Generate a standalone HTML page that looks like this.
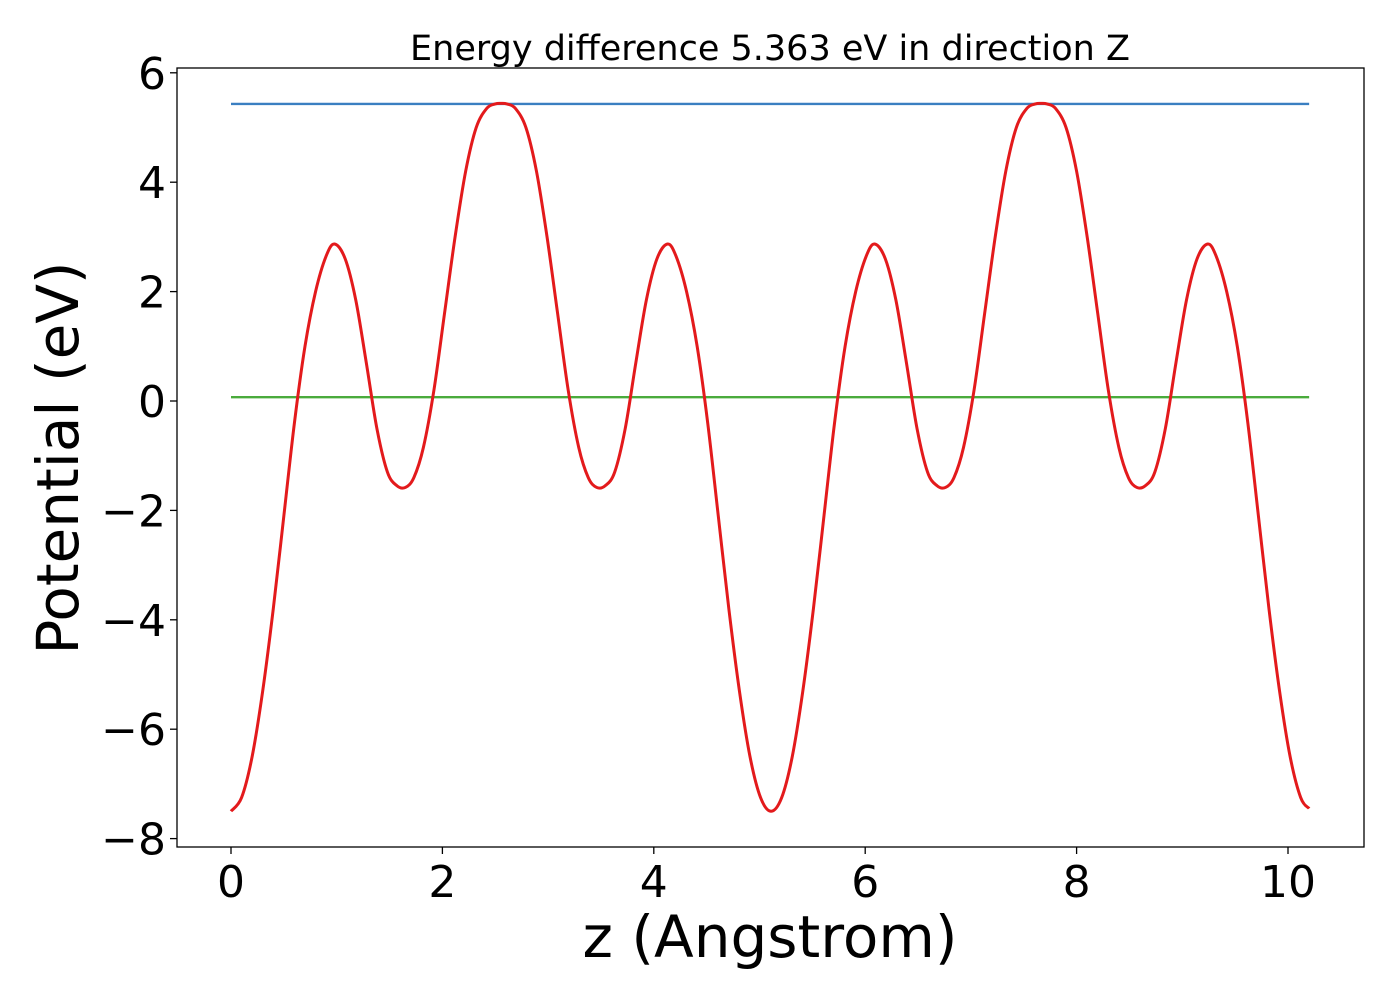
<!DOCTYPE html>
<html><head><meta charset="utf-8"><style>
body{margin:0;background:#fff;}
svg text{font-family:"DejaVu Sans","Liberation Sans",sans-serif;}
</style></head><body>
<svg id="chart" width="1400" height="1000" viewBox="0 0 1400 1000" xmlns="http://www.w3.org/2000/svg">
<rect width="1400" height="1000" fill="#fff"/>
<text x="770" y="60" font-size="35" text-anchor="middle">Energy difference 5.363 eV in direction Z</text>
<text x="770" y="957" font-size="58" text-anchor="middle">z (Angstrom)</text>
<text transform="translate(78,458) rotate(-90)" font-size="58" text-anchor="middle">Potential (eV)</text>
</svg>
<script>
const xTicks=[0,2,4,6,8,10];
const yTicks=[6,4,2,0,-2,-4,-6,-8];
const zVals=[0,0.1,0.2,0.3,0.4,0.5,0.6,0.7,0.8,0.9,0.98,1.08,1.18,1.28,1.38,1.48,1.57,1.65,1.73,1.82,1.92,2.02,2.12,2.22,2.32,2.42,2.5,2.555,2.61,2.69,2.79,2.89,2.99,3.09,3.19,3.29,3.38,3.46,3.54,3.63,3.73,3.83,3.93,4.03,4.13,4.21,4.31,4.41,4.51,4.61,4.71,4.81,4.91,5.01,5.11,5.21,5.31,5.41,5.51,5.61,5.71,5.81,5.91,6.01,6.09,6.19,6.29,6.39,6.49,6.59,6.68,6.76,6.84,6.93,7.03,7.13,7.23,7.33,7.43,7.53,7.61,7.665,7.72,7.8,7.9,8.0,8.1,8.2,8.3,8.4,8.49,8.57,8.65,8.74,8.84,8.94,9.04,9.14,9.24,9.32,9.42,9.52,9.62,9.72,9.82,9.92,10.02,10.12,10.2];
const potVals=[-7.5,-7.25,-6.5,-5.3,-3.8,-2.1,-0.4,1.0,2.0,2.65,2.87,2.6,1.85,0.7,-0.5,-1.3,-1.55,-1.58,-1.4,-0.85,0.2,1.6,3.0,4.2,5.0,5.35,5.43,5.44,5.43,5.35,5.0,4.2,3.0,1.6,0.2,-0.85,-1.4,-1.58,-1.55,-1.3,-0.5,0.7,1.85,2.6,2.87,2.65,2.0,1.0,-0.4,-2.1,-3.8,-5.3,-6.5,-7.25,-7.5,-7.25,-6.5,-5.3,-3.8,-2.1,-0.4,1.0,2.0,2.65,2.87,2.6,1.85,0.7,-0.5,-1.3,-1.55,-1.58,-1.4,-0.85,0.2,1.6,3.0,4.2,5.0,5.35,5.43,5.44,5.43,5.35,5.0,4.2,3.0,1.6,0.2,-0.85,-1.4,-1.58,-1.55,-1.3,-0.5,0.7,1.85,2.6,2.87,2.65,2.0,1.0,-0.4,-2.1,-3.8,-5.3,-6.5,-7.25,-7.45];
const vMax=[5.43];
const vAvg=[0.07];
const xRange=[0,10.2];
const L=177,R=1364,T=68,B=847;
const sx=v=>231+v*105.7;
const sy=v=>401-v*54.7;
const svg=document.getElementById('chart');
const NS='http://www.w3.org/2000/svg';
function mk(t,a){const e=document.createElementNS(NS,t);for(const k in a)e.setAttribute(k,a[k]);svg.appendChild(e);return e;}
const bl=mk('line',{x1:sx(xRange[0]),x2:sx(xRange[1]),y1:sy(vMax[0]),y2:sy(vMax[0]),stroke:'#3a7fc1','stroke-width':2.4});


const gl=mk('line',{x1:sx(xRange[0]),x2:sx(xRange[1]),y1:sy(vAvg[0]),y2:sy(vAvg[0]),stroke:'#4aab3c','stroke-width':2.4});


const pts=zVals.map((z,i)=>[sx(z),sy(potVals[i])]);
let d='M'+pts[0][0]+','+pts[0][1];
for(let i=0;i<pts.length-1;i++){const p0=pts[Math.max(0,i-1)],p1=pts[i],p2=pts[i+1],p3=pts[Math.min(pts.length-1,i+2)];
d+=' C'+(p1[0]+(p2[0]-p0[0])/6)+','+(p1[1]+(p2[1]-p0[1])/6)+' '+(p2[0]-(p3[0]-p1[0])/6)+','+(p2[1]-(p3[1]-p1[1])/6)+' '+p2[0]+','+p2[1];}
const cv=mk('path',{d:d,fill:'none',stroke:'#e31a1c','stroke-width':3,'stroke-linejoin':'round'});


const fr=mk('rect',{x:L,y:T,width:R-L,height:B-T,fill:'none',stroke:'#000','stroke-width':1.3});


xTicks.forEach(v=>{
 const t=mk('line',{x1:sx(v),x2:sx(v),y1:B,y2:B+7,stroke:'#000','stroke-width':1.3});
 
 
 const l=mk('text',{x:sx(v),y:B+50,'font-size':44,'text-anchor':'middle'});l.textContent=v;
 
 
});
yTicks.forEach(v=>{
 const t=mk('line',{x1:L-7,x2:L,y1:sy(v),y2:sy(v),stroke:'#000','stroke-width':1.3});
 
 
 const l=mk('text',{x:L-11,y:sy(v)+16,'font-size':44,'text-anchor':'end'});l.textContent=v<0?'\u2212'+(-v):v;
 
 
});
</script>
</body></html>
